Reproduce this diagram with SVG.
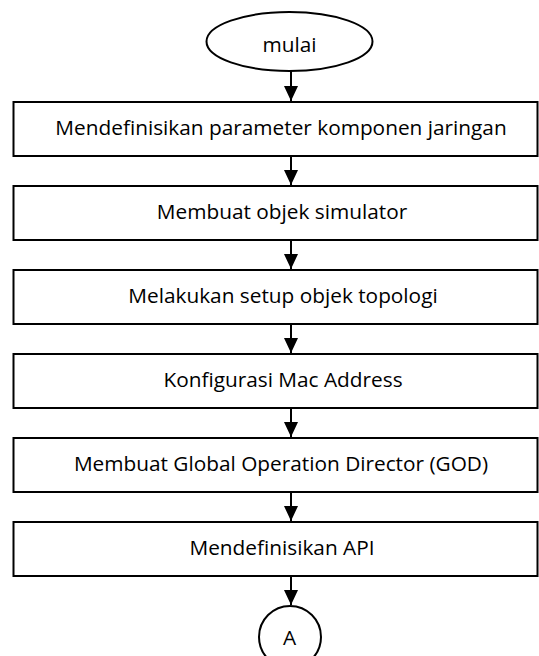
<svg xmlns="http://www.w3.org/2000/svg" width="539" height="656" viewBox="0 0 539 656">
  <style>
    .shape { fill: #ffffff; stroke: #000000; stroke-width: 2; }
    .label { font-family: "Open Sans", Lato, "Liberation Sans", sans-serif; font-size: 20.8px; fill: #000000; text-anchor: middle; }
    .flow { stroke: #000000; stroke-width: 2; fill: none; marker-end: url(#arrow); }
  </style>
  <defs>
    <marker id="arrow" viewBox="0 0 15 14" refX="15" refY="7" markerWidth="15" markerHeight="14" markerUnits="userSpaceOnUse" orient="auto">
      <path d="M0,0 L15,7 L0,14 Z" fill="#000000"/>
    </marker>
  </defs>
  <rect width="539" height="656" fill="#ffffff"/>

  <g id="connectors">
    <line class="flow" x1="291" y1="71" x2="291" y2="101"/>
    <line class="flow" x1="291" y1="156" x2="291" y2="185"/>
    <line class="flow" x1="291" y1="240" x2="291" y2="269"/>
    <line class="flow" x1="291" y1="324" x2="291" y2="353"/>
    <line class="flow" x1="291" y1="408" x2="291" y2="437"/>
    <line class="flow" x1="291" y1="492" x2="291" y2="521"/>
    <line class="flow" x1="291" y1="576" x2="291" y2="605"/>
  </g>

  <g id="start">
    <ellipse class="shape" cx="289.5" cy="41.5" rx="83" ry="29.5"/>
    <text class="label" x="289.5" y="52">mulai</text>
  </g>

  <g id="step1">
    <rect class="shape" x="13.5" y="102" width="524" height="54"/>
    <text class="label" x="281" y="135">Mendefinisikan parameter komponen jaringan</text>
  </g>

  <g id="step2">
    <rect class="shape" x="13.5" y="186" width="524" height="54"/>
    <text class="label" x="282" y="219">Membuat objek simulator</text>
  </g>

  <g id="step3">
    <rect class="shape" x="13.5" y="270" width="524" height="54"/>
    <text class="label" x="283" y="303">Melakukan setup objek topologi</text>
  </g>

  <g id="step4">
    <rect class="shape" x="13.5" y="354" width="524" height="54"/>
    <text class="label" x="283" y="387">Konfigurasi Mac Address</text>
  </g>

  <g id="step5">
    <rect class="shape" x="13.5" y="438" width="524" height="54"/>
    <text class="label" x="281" y="471">Membuat Global Operation Director (GOD)</text>
  </g>

  <g id="step6">
    <rect class="shape" x="13.5" y="522" width="524" height="54"/>
    <text class="label" x="282" y="555">Mendefinisikan API</text>
  </g>

  <g id="connector-a">
    <circle class="shape" cx="290" cy="637" r="31"/>
    <text class="label" x="289.5" y="645">A</text>
  </g>
</svg>
